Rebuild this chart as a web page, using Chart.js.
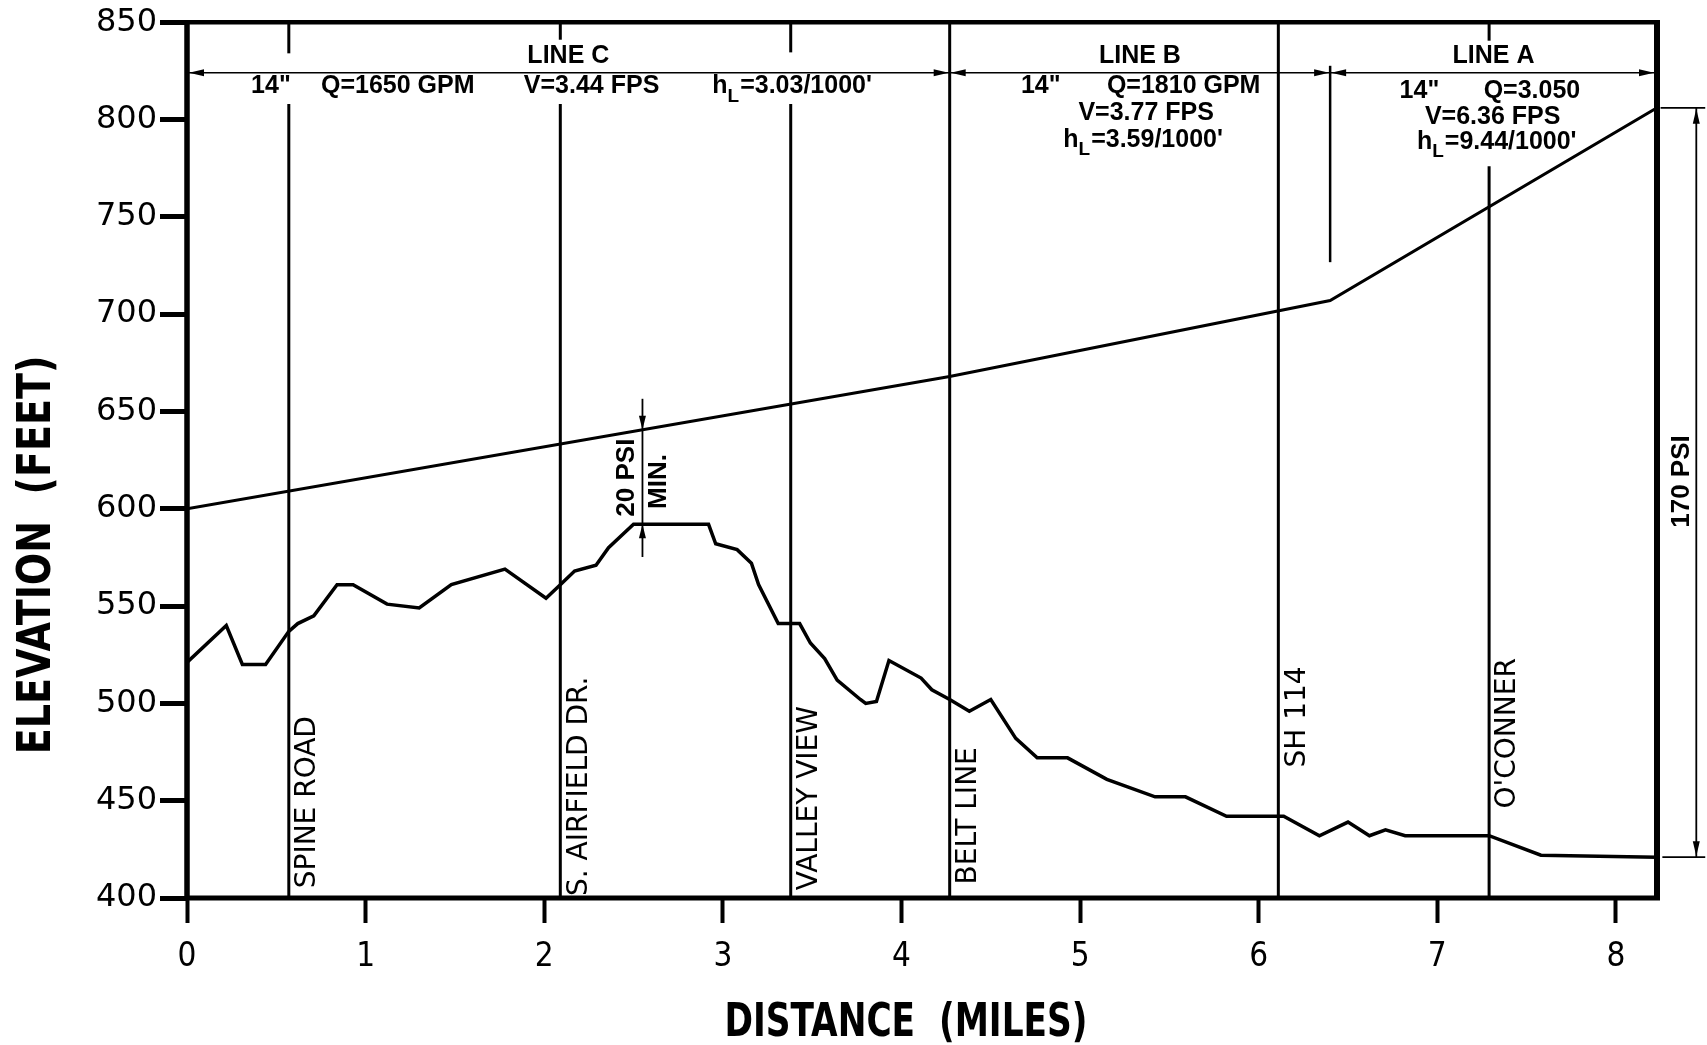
<!DOCTYPE html>
<html>
<head>
<meta charset="utf-8">
<title>Pipeline Profile</title>
<script src="https://cdn.jsdelivr.net/npm/chart.js@4.4.1/dist/chart.umd.min.js"></script>
<style>
  html, body { margin: 0; padding: 0; background: #fff; }
  #wrap { width: 1707px; height: 1045px; }
  canvas { display: block; }
</style>
</head>
<body>
<div id="wrap"><canvas id="profile" width="1707" height="1045"></canvas></div>
<script>
// ground profile along the route (distance in miles, elevation in feet)
const groundMiles = [0, 0.22, 0.31, 0.44, 0.57, 0.62, 0.71, 0.84, 0.93, 1.12, 1.30, 1.48, 1.78, 2.01, 2.09,
  2.17, 2.29, 2.36, 2.50, 2.92, 2.96, 3.08, 3.16, 3.20, 3.31, 3.43, 3.49, 3.57, 3.64, 3.77, 3.80, 3.86, 3.93,
  4.11, 4.17, 4.27, 4.38, 4.50, 4.64, 4.76, 4.93, 5.15, 5.42, 5.59, 5.82, 6.14, 6.34, 6.50, 6.62, 6.71, 6.82,
  7.29, 7.58, 8.23];
const groundElev = [521, 540, 520, 520, 537, 541, 545, 561, 561, 551, 549, 561, 569, 554, 561,
  568, 571, 580, 592, 592, 582, 579, 572, 561, 541, 541, 531, 523, 512, 502, 500, 501, 522,
  513, 507, 502, 496, 502, 482, 472, 472, 461, 452, 452, 442, 442, 432, 439, 432, 435, 432,
  432, 422, 421];

// hydraulic grade line
const hglMiles = [0, 4.27, 6.4, 8.23];
const hglElev = [600, 668, 707, 806];

const xTicks = [0, 1, 2, 3, 4, 5, 6, 7, 8];
const yTicks = [400, 450, 500, 550, 600, 650, 700, 750, 800, 850];

// cross streets
const streetMiles = [0.57, 2.09, 3.38, 4.27, 6.11, 7.29];
const streetNames = ['SPINE ROAD', 'S. AIRFIELD DR.', 'VALLEY VIEW', 'BELT LINE', 'SH 114', "O'CONNER"];

// pipe sections
const lineNames = ['LINE C', 'LINE B', 'LINE A'];
const lineBreaks = [0, 4.27, 6.4, 8.23];

// pressure callouts
const minPressure = '20 PSI';
const maxPressure = '170 PSI';

const ink = '#000';
const NARROW = "'Liberation Sans Narrow', 'DejaVu Sans Condensed', sans-serif";
const SANS = "'Liberation Sans', Arial, sans-serif";
const DJ = "'DejaVu Sans', sans-serif";

// where things sit on the drawing (miles / feet)
const streetLayout = [
  { stubTo: 834, lowTop: 808, labelAt: 405 },
  { stubTo: 841, lowTop: 808, labelAt: 401 },
  { stubTo: 834.5, lowTop: 808, labelAt: 404 },
  { stubTo: null, lowTop: 850, labelAt: 407 },
  { stubTo: null, lowTop: 850, labelAt: 467 },
  { stubTo: 840.5, lowTop: 776, labelAt: 446 },
];
const specNotes = [
  ['14"', 0.47, 817], ['Q=1650 GPM', 1.18, 817], ['V=3.44 FPS', 2.265, 817], ["hL=3.03/1000'", 3.385, 817],
  ['14"', 4.78, 817], ['Q=1810 GPM', 5.58, 817], ['V=3.77 FPS', 5.37, 803.5], ["hL=3.59/1000'", 5.35, 789.5],
  ['14"', 6.90, 814.5], ['Q=3.050', 7.53, 814.5], ['V=6.36 FPS', 7.31, 801], ["hL=9.44/1000'", 7.33, 788.5],
];

function arrow(ctx, x, y, dx, dy, len, half) {
  ctx.beginPath();
  ctx.moveTo(x, y);
  ctx.lineTo(x - dx * len - dy * half, y - dy * len + dx * half);
  ctx.lineTo(x - dx * len + dy * half, y - dy * len - dx * half);
  ctx.closePath();
  ctx.fill();
}

function seg(ctx, x0, y0, x1, y1, w) {
  ctx.lineWidth = w;
  ctx.beginPath();
  ctx.moveTo(x0, y0);
  ctx.lineTo(x1, y1);
  ctx.stroke();
}

// text turned to read bottom-to-top; squeeze < 1 narrows it along the reading direction
function rotText(ctx, text, x, y, align, baseline, squeeze = 1) {
  ctx.save();
  ctx.translate(x, y);
  ctx.rotate(-Math.PI / 2);
  ctx.scale(squeeze, 1);
  ctx.textAlign = align;
  ctx.textBaseline = baseline;
  ctx.fillText(text, 0, 0);
  ctx.restore();
}

function specText(ctx, text, x, y) {
  const big = 'bold 25px ' + SANS;
  const sub = 'bold 19px ' + SANS;
  ctx.textBaseline = 'middle';
  if (!text.startsWith('hL')) {
    ctx.font = big;
    ctx.textAlign = 'center';
    ctx.fillText(text, x, y);
    return;
  }
  const rest = text.slice(2);
  ctx.font = big;
  const wh = ctx.measureText('h').width;
  const wr = ctx.measureText(rest).width;
  ctx.font = sub;
  const wl = ctx.measureText('L').width;
  let x0 = x - (wh + wl + wr) / 2;
  ctx.textAlign = 'left';
  ctx.font = big;
  ctx.fillText('h', x0, y);
  ctx.font = sub;
  ctx.fillText('L', x0 + wh, y + 10);
  ctx.font = big;
  ctx.fillText(rest, x0 + wh + wl + 1, y);
}

const profileMarks = {
  id: 'profileMarks',
  afterDatasetsDraw(chart) {
    const { ctx, chartArea: a } = chart;
    const X = v => chart.scales.x.getPixelForValue(v);
    const Y = v => chart.scales.y.getPixelForValue(v);
    ctx.save();
    ctx.strokeStyle = ink;
    ctx.fillStyle = ink;
    ctx.lineCap = 'butt';

    // frame
    const right = X(lineBreaks[3]);
    seg(ctx, a.left, a.top - 2, a.left, a.bottom + 2, 5.5);
    seg(ctx, a.left, a.bottom, right + 3, a.bottom, 5);
    seg(ctx, a.left, a.top, right + 3, a.top, 4.5);
    seg(ctx, right, a.top, right, a.bottom, 6);

    // street lines
    streetMiles.forEach((m, i) => {
      const L = streetLayout[i];
      seg(ctx, X(m), Y(400), X(m), Y(L.lowTop), 3);
      if (L.stubTo) seg(ctx, X(m), Y(850), X(m), Y(L.stubTo), 3);
      ctx.font = '28px ' + DJ;
      rotText(ctx, streetNames[i], X(m) + 5, Y(L.labelAt), 'left', 'top');
    });

    // section dimension line
    const dimY = Y(824);
    seg(ctx, X(lineBreaks[0]), dimY, X(lineBreaks[3]), dimY, 1.6);
    const al = 15, ah = 3.5;
    arrow(ctx, X(lineBreaks[0]) + 2, dimY, -1, 0, al, ah);
    arrow(ctx, X(lineBreaks[3]) - 3, dimY, 1, 0, al, ah);
    [lineBreaks[1], lineBreaks[2]].forEach(m => {
      arrow(ctx, X(m) - 1, dimY, 1, 0, al, ah);
      arrow(ctx, X(m) + 1, dimY, -1, 0, al, ah);
    });
    seg(ctx, X(lineBreaks[2]), Y(827.6), X(lineBreaks[2]), Y(726.7), 2.5);

    ctx.font = 'bold 25px ' + SANS;
    ctx.textAlign = 'center';
    ctx.textBaseline = 'middle';
    lineNames.forEach((n, i) => {
      ctx.fillText(n, X((lineBreaks[i] + lineBreaks[i + 1]) / 2), Y(832.5));
    });
    specNotes.forEach(([t, m, e]) => specText(ctx, t, X(m), Y(e)));

    // minimum pressure callout
    const pm = 2.55;
    const gTop = 592;
    const hAt = 640.6;
    seg(ctx, X(pm), Y(656.5), X(pm), Y(575.2), 1.8);
    arrow(ctx, X(pm), Y(hAt), 0, 1, 14, 3.5);
    arrow(ctx, X(pm), Y(gTop), 0, -1, 14, 3.5);
    ctx.font = 'bold 26px ' + SANS;
    rotText(ctx, minPressure, X(2.46), Y(616), 'center', 'middle');
    rotText(ctx, 'MIN.', X(2.64), Y(614), 'center', 'middle');

    // max pressure callout
    const pM = 8.45;
    const hiE = hglElev[hglElev.length - 1];
    const loE = groundElev[groundElev.length - 1];
    seg(ctx, X(8.25), Y(hiE), X(8.5), Y(hiE), 1.8);
    seg(ctx, X(8.26), Y(loE), X(8.5), Y(loE), 1.8);
    seg(ctx, X(pM), Y(hiE), X(pM), Y(loE), 1.8);
    arrow(ctx, X(pM), Y(hiE) + 1, 0, -1, 15, 3.5);
    arrow(ctx, X(pM), Y(loE) - 1, 0, 1, 15, 3.5);
    rotText(ctx, maxPressure, X(8.37), Y(614), 'center', 'middle');

    ctx.restore();
  },
  afterDraw(chart) {
    const { ctx } = chart;
    ctx.save();
    ctx.fillStyle = ink;
    ctx.font = 'bold 46px ' + NARROW;
    ctx.textAlign = 'center';
    ctx.textBaseline = 'middle';
    // axis titles, drawn by hand so they can sit off-centre like the drawing
    ctx.save();
    ctx.translate(906, 1024);
    ctx.scale(0.83, 1);
    ctx.fillText('DISTANCE  (MILES)', 0, 0);
    ctx.restore();
    rotText(ctx, 'ELEVATION  (FEET)', 38, 555, 'center', 'middle', 0.92);
    ctx.restore();
  }
};

new Chart(document.getElementById('profile'), {
  type: 'line',
  data: {
    datasets: [
      {
        label: 'Ground',
        data: groundMiles.map((m, i) => ({ x: m, y: groundElev[i] })),
        borderColor: ink,
        borderWidth: 3.5,
        pointRadius: 0,
        tension: 0,
        fill: false,
      },
      {
        label: 'Hydraulic grade',
        data: hglMiles.map((m, i) => ({ x: m, y: hglElev[i] })),
        borderColor: ink,
        borderWidth: 3,
        pointRadius: 0,
        tension: 0,
        fill: false,
      },
    ],
  },
  options: {
    responsive: false,
    animation: false,
    events: [],
    layout: { padding: { top: 22, right: 50, left: 0, bottom: 0 } },
    plugins: {
      legend: { display: false },
      tooltip: { enabled: false },
    },
    scales: {
      x: {
        type: 'linear',
        min: lineBreaks[0],
        max: lineBreaks[3],
        afterBuildTicks: s => { s.ticks = xTicks.map(v => ({ value: v })); },
        afterFit: s => { s.height = 147; },
        border: { display: false },
        grid: { drawOnChartArea: false, drawTicks: true, tickLength: 25, tickWidth: 4, tickColor: ink },
        ticks: { color: ink, font: { family: NARROW, size: 33 }, padding: 15, maxRotation: 0, autoSkip: false },
      },
      y: {
        type: 'linear',
        min: 400,
        max: 850,
        afterBuildTicks: s => { s.ticks = yTicks.map(v => ({ value: v })); },
        afterFit: s => { s.width = 187; },
        border: { display: false },
        grid: { drawOnChartArea: false, drawTicks: true, tickLength: 27, tickWidth: 5, tickColor: ink },
        ticks: { color: ink, font: { family: DJ, size: 32 }, padding: 3 },
      },
    },
  },
  plugins: [profileMarks],
});
</script>
</body>
</html>
